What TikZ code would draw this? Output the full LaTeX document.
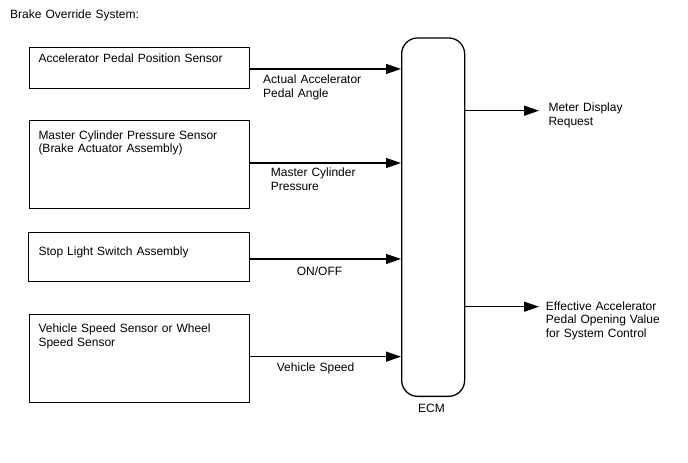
\documentclass[tikz,border=0pt]{standalone}
\usepackage{fontspec}
\setmainfont{Liberation Sans}
\usetikzlibrary{arrows.meta}
\begin{document}
\begin{tikzpicture}[x=1pt,y=-1pt,
  txt/.style={inner sep=0pt,anchor=base west,align=left,text width=200pt,
    font=\fontsize{12}{13.6}\selectfont},
  boxn/.style={draw,line width=1.3pt,inner sep=0pt,anchor=north west},
  ecmbox/.style={draw,line width=1.3pt,inner sep=0pt,anchor=north west,rounded corners=16pt},
  arr/.style={line width=1.3pt,-{Triangle[length=15pt,width=10pt]}}]
\useasboundingbox (0,0) rectangle (688,463);
\fill[white] (0,0) rectangle (688,463);
\node[txt] (title) at (10,19) {Brake Override System:};
% input boxes
\node[boxn,minimum width=220.2pt,minimum height=41.2pt] (b1) at (28.5,46.5) {};
\node[boxn,minimum width=220.2pt,minimum height=87.7pt] (b2) at (28.5,120) {};
\node[boxn,minimum width=220.7pt,minimum height=49pt] (b3) at (28,232) {};
\node[boxn,minimum width=220.2pt,minimum height=87.7pt] (b4) at (28.5,314) {};
\node[txt] (t1) at (38.3,62.5) {Accelerator Pedal Position Sensor};
\node[txt] (t2) at (38.3,139.3) {Master Cylinder Pressure Sensor\\(Brake Actuator Assembly)};
\node[txt] (t3) at (38.3,255) {Stop Light Switch Assembly};
\node[txt] (t4) at (38.3,332.7) {Vehicle Speed Sensor or Wheel\\Speed Sensor};
% ECM
\node[ecmbox,minimum width=63pt,minimum height=358.4pt] (ecm) at (401,37.3) {};
\node[inner sep=0pt,anchor=base,font=\fontsize{12}{13.6}\selectfont] (ecml) at (431.5,412.7) {ECM};
% input arrows
\draw[arr] ([yshift=-1.2pt]b1.east) -- ([yshift=-1.2pt]b1.east -| ecm.west);
\draw[arr] ([yshift=1.5pt]b2.east) -- ([yshift=1.5pt]b2.east -| ecm.west);
\draw[arr] ([yshift=-1.8pt]b3.east) -- ([yshift=-1.8pt]b3.east -| ecm.west);
\draw[arr] ([yshift=1.85pt]b4.east) -- ([yshift=1.85pt]b4.east -| ecm.west);
\node[txt] (l1) at (263,83.5) {Actual Accelerator\\Pedal Angle};
\node[txt] (l2) at (270.7,176.5) {Master Cylinder\\Pressure};
\node[txt] (l3) at (296.7,275.8) {ON/OFF};
\node[txt] (l4) at (276.7,371.7) {Vehicle Speed};
% outputs
\coordinate (o1) at (539,110.7);
\coordinate (o2) at (539,306.7);
\draw[arr] (o1 -| ecm.east) -- (o1);
\draw[arr] (o2 -| ecm.east) -- (o2);
\node[txt] (r1) at (548.3,111.5) {Meter Display\\Request};
\node[txt] (r2) at (545.7,310.2) {Effective Accelerator\\Pedal Opening Value\\for System Control};
\end{tikzpicture}
\end{document}
